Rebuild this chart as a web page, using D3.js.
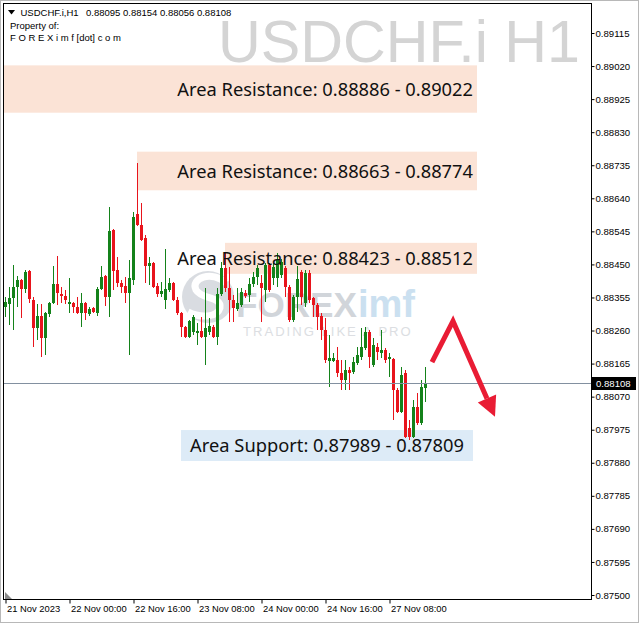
<!DOCTYPE html>
<html><head><meta charset="utf-8">
<script src="https://cdn.jsdelivr.net/npm/d3@7"></script>
<style>body{margin:0;background:#fff}svg{display:block}</style>
</head><body>
<svg id="c" width="639" height="623"></svg>
<script>
// ---- data ----
const opens = [0.88328,0.88337,0.88353,0.88385,0.88405,0.88379,0.88431,0.88348,0.88267,0.88302,
0.88239,0.88308,0.88339,0.88394,0.88366,0.88360,0.88337,0.88340,0.88328,0.88310,
0.88339,0.88308,0.88325,0.88310,0.88379,0.88417,0.88356,0.88549,0.88434,0.88396,
0.88388,0.88367,0.88405,0.88595,0.88563,0.88526,0.88446,0.88454,0.88388,0.88365,
0.88348,0.88376,0.88396,0.88348,0.88310,0.88270,0.88242,0.88256,0.88253,0.88258,
0.88242,0.88256,0.88270,0.88242,0.88365,0.88440,0.88382,0.88348,0.88322,0.88334,
0.88367,0.88362,0.88394,0.88414,0.88396,0.88376,0.88449,0.88411,0.88411,0.88420,
0.88440,0.88385,0.88290,0.88356,0.88428,0.88339,0.88425,0.88353,0.88334,0.88302,
0.88262,0.88172,0.88172,0.88175,0.88138,0.88118,0.88147,0.88141,0.88166,0.88184,
0.88210,0.88256,0.88161,0.88213,0.88195,0.88204,0.88178,0.88178,0.88089,0.88026,
0.88138,0.87980,0.87954,0.88040,0.87994,0.88095];
const highs = [0.88356,0.88385,0.88449,0.88417,0.88408,0.88434,0.88434,0.88356,0.88337,0.88337,
0.88312,0.88342,0.88446,0.88474,0.88385,0.88376,0.88411,0.88342,0.88356,0.88367,
0.88342,0.88328,0.88328,0.88385,0.88446,0.88420,0.88615,0.88552,0.88471,0.88405,
0.88414,0.88463,0.88600,0.88741,0.88626,0.88535,0.88471,0.88457,0.88396,0.88399,
0.88494,0.88411,0.88399,0.88356,0.88313,0.88273,0.88290,0.88305,0.88281,0.88299,
0.88382,0.88296,0.88276,0.88382,0.88457,0.88486,0.88443,0.88362,0.88382,0.88382,
0.88376,0.88411,0.88428,0.88449,0.88420,0.88454,0.88454,0.88454,0.88483,0.88466,
0.88446,0.88391,0.88362,0.88446,0.88434,0.88434,0.88434,0.88356,0.88339,0.88310,
0.88296,0.88247,0.88195,0.88213,0.88175,0.88175,0.88155,0.88184,0.88213,0.88267,
0.88270,0.88262,0.88239,0.88224,0.88262,0.88210,0.88195,0.88181,0.88095,0.88155,
0.88147,0.88003,0.88060,0.88081,0.88118,0.88154];
const lows = [0.88299,0.88276,0.88262,0.88328,0.88296,0.88367,0.88339,0.88213,0.88233,0.88184,
0.88190,0.88299,0.88335,0.88334,0.88339,0.88337,0.88310,0.88310,0.88307,0.88270,
0.88290,0.88302,0.88310,0.88302,0.88376,0.88331,0.88299,0.88376,0.88385,0.88367,
0.88339,0.88190,0.88391,0.88560,0.88517,0.88396,0.88391,0.88382,0.88356,0.88356,
0.88322,0.88370,0.88345,0.88305,0.88242,0.88239,0.88239,0.88247,0.88218,0.88239,
0.88161,0.88247,0.88239,0.88218,0.88359,0.88370,0.88284,0.88284,0.88316,0.88328,
0.88353,0.88342,0.88385,0.88391,0.88284,0.88342,0.88370,0.88391,0.88385,0.88411,
0.88356,0.88284,0.88284,0.88313,0.88334,0.88328,0.88339,0.88299,0.88262,0.88233,
0.88166,0.88098,0.88169,0.88127,0.88089,0.88089,0.88089,0.88135,0.88161,0.88175,
0.88204,0.88152,0.88155,0.88175,0.88181,0.88166,0.88127,0.88003,0.88023,0.88023,
0.87951,0.87945,0.87951,0.87988,0.87988,0.88056];
const closes = [0.88342,0.88353,0.88385,0.88405,0.88379,0.88428,0.88350,0.88267,0.88302,0.88239,
0.88310,0.88339,0.88394,0.88367,0.88359,0.88348,0.88342,0.88328,0.88310,0.88339,
0.88310,0.88322,0.88313,0.88379,0.88414,0.88356,0.88546,0.88431,0.88396,0.88385,
0.88367,0.88411,0.88586,0.88563,0.88520,0.88446,0.88454,0.88385,0.88365,0.88373,
0.88379,0.88396,0.88348,0.88310,0.88270,0.88242,0.88287,0.88299,0.88258,0.88242,
0.88267,0.88273,0.88242,0.88365,0.88440,0.88382,0.88348,0.88325,0.88339,0.88370,
0.88359,0.88394,0.88414,0.88440,0.88382,0.88449,0.88376,0.88443,0.88463,0.88457,
0.88385,0.88290,0.88356,0.88408,0.88356,0.88425,0.88348,0.88334,0.88299,0.88262,
0.88175,0.88181,0.88181,0.88138,0.88118,0.88147,0.88138,0.88169,0.88190,0.88213,
0.88256,0.88184,0.88218,0.88198,0.88204,0.88175,0.88184,0.88089,0.88026,0.88132,
0.87954,0.87954,0.88040,0.87994,0.88098,0.88108];

const timeLabels = ["21 Nov 2023","22 Nov 00:00","22 Nov 16:00","23 Nov 08:00","24 Nov 00:00","24 Nov 16:00","27 Nov 08:00"];
const timeIndex  = [0,16,32,48,64,80,96];
const priceTicks = [0.89115,0.89020,0.88925,0.88830,0.88735,0.88640,0.88545,0.88450,0.88355,
                    0.88260,0.88165,0.88070,0.87975,0.87880,0.87785,0.87690,0.87595,0.87500];
const lastPrice = 0.88108;
const symbol = "USDCHF.i,H1";
const ohlcText = "0.88095 0.88154 0.88056 0.88108";
const watermark = "USDCHF.i H1";

const zoneLabels = ["Area Resistance: 0.88886 - 0.89022","Area Resistance: 0.88663 - 0.88774",
                    "Area Resistance: 0.88423 - 0.88512","Area Support: 0.87989 - 0.87809"];
const zoneLow   = [0.88886,0.88663,0.88423,0.87885];
const zoneHigh  = [0.89022,0.88774,0.88512,0.87974];
const zoneFrom  = [-0.25,33,55,44];
const zoneTo    = [118,118,118,117];
const zoneKind  = ["res","res","res","sup"];

const arrowIdx   = [106.75,112,122.5];
const arrowPrice = [0.88169,0.88287,0.88012];

// ---- drawing ----
const W=639,H=623;
const L=3.5,R=591.5,T=3.5,B=599.5;
const svg=d3.select("#c");
const x=d3.scaleLinear().domain([0,146.75]).range([5,592]);
const y=d3.scaleLinear().domain([0.87500,0.89115]).range([595,33]);
const FONT="'Liberation Sans', Arial, sans-serif";
const BIG="'Noto Sans', 'Open Sans', sans-serif";
const GREEN="#14821a", RED="#e8141c";

svg.append("rect").attr("width",W).attr("height",H).attr("fill","#fff");

function fit(t,w){const n=t.node();const cur=n.getComputedTextLength();const fs=parseFloat(t.attr("font-size"));t.attr("font-size",(fs*w/cur).toFixed(2));return t;}

// watermark symbol
fit(svg.append("text").attr("x",580).attr("y",62).attr("text-anchor","end")
  .attr("font-family",FONT).attr("font-size",56).attr("fill","#d4d4d4").text(watermark),362);

// logo watermark
const logo=svg.append("g").attr("opacity",0.85);
logo.append("circle").attr("cx",208).attr("cy",297).attr("r",26).attr("fill","#d3d7dc");
logo.append("path").attr("d","M226,283 C212,270 190,278 196,290 C202,300 222,296 220,308 C217,318 200,318 188,312")
  .attr("fill","none").attr("stroke","#fff").attr("stroke-width",7);
fit(logo.append("text").attr("x",236).attr("y",317).attr("font-family",FONT).attr("font-weight","bold")
  .attr("font-size",36).attr("fill","#c9ced4").text("FOREX"),121);
fit(logo.append("text").attr("x",358).attr("y",317).attr("font-family",FONT).attr("font-weight","bold")
  .attr("font-size",36).attr("fill","#c2dbee").text("imf"),57);
fit(logo.append("text").attr("x",243).attr("y",336).attr("font-family",FONT).attr("letter-spacing",2)
  .attr("font-size",13).attr("fill","#d6d9dd").text("TRADING LIKE A PRO"),170);

// zones
const zones=d3.range(zoneLabels.length).map(k=>({k,label:zoneLabels[k],lo:zoneLow[k],hi:zoneHigh[k],from:zoneFrom[k],to:zoneTo[k],kind:zoneKind[k]}));
svg.append("g").selectAll("rect").data(zones).join("rect")
  .attr("x",d=>x(d.from)).attr("y",d=>y(d.hi))
  .attr("width",d=>x(d.to)-x(d.from)).attr("height",d=>y(d.lo)-y(d.hi))
  .attr("fill",d=>d.kind==="res"?"#fbe3d6":"#ddebf7");

// candles
const data=d3.range(opens.length).map(i=>({i,o:opens[i],h:highs[i],l:lows[i],c:closes[i]}));
const cg=svg.append("g").attr("shape-rendering","crispEdges");
cg.selectAll(".w").data(data).join("rect").attr("class","w")
  .attr("x",d=>Math.round(x(d.i))).attr("width",1)
  .attr("y",d=>y(d.h)).attr("height",d=>Math.max(1,y(d.l)-y(d.h)))
  .attr("fill",d=>d.c>=d.o?GREEN:RED);
cg.selectAll(".b").data(data).join("rect").attr("class","b")
  .attr("x",d=>Math.round(x(d.i))-1).attr("width",3)
  .attr("y",d=>y(Math.max(d.o,d.c))).attr("height",d=>Math.max(1,Math.abs(y(d.o)-y(d.c))))
  .attr("fill",d=>d.c>=d.o?GREEN:RED);

// zone labels
zones.forEach(d=>{
  const cy=(y(d.hi)+y(d.lo))/2;
  const t=svg.append("text").attr("font-family",BIG).attr("font-size",20).attr("fill","#111").text(d.label);
  if(d.kind==="res"){
    t.attr("text-anchor","end").attr("x",x(d.to)-4);
    fit(t,296);
  } else {
    t.attr("text-anchor","middle").attr("x",(x(d.from)+x(d.to))/2);
    fit(t,274);
  }
  const fs=parseFloat(t.attr("font-size"));
  t.attr("y",cy+fs*0.36);
});

// current price line
svg.append("line").attr("x1",L).attr("x2",R).attr("y1",Math.round(y(lastPrice))+0.5).attr("y2",Math.round(y(lastPrice))+0.5)
  .attr("stroke","#8290a0").attr("stroke-width",1);

// arrow
const ap=arrowIdx.map((v,k)=>[x(v),y(arrowPrice[k])]);
const tip=ap[2], p2=ap[1];
const dx=tip[0]-p2[0], dy=tip[1]-p2[1], len=Math.hypot(dx,dy), ux=dx/len, uy=dy/len;
const base=[tip[0]-20*ux,tip[1]-20*uy];
svg.append("path").attr("d",d3.line()([ap[0],ap[1],base])).attr("fill","none")
  .attr("stroke","#e91c34").attr("stroke-width",5).attr("stroke-linejoin","miter");
svg.append("path").attr("d",d3.line()([[base[0]+10*(-uy),base[1]+10*ux],tip,[base[0]-10*(-uy),base[1]-10*ux]])+"Z")
  .attr("fill","#e91c34");

// frame
svg.append("rect").attr("x",L).attr("y",T).attr("width",R-L).attr("height",B-T)
  .attr("fill","none").attr("stroke","#000").attr("stroke-width",1);
svg.append("rect").attr("x",0.5).attr("y",0.5).attr("width",W-1).attr("height",H-1)
  .attr("fill","none").attr("stroke","#b8b8b8");
svg.append("path").attr("d","M5,592 L5,599 L12,599 Z").attr("fill","#8a8a8a");

// right axis
const ya=svg.append("g").attr("transform",`translate(${R},0)`)
  .call(d3.axisRight(y).tickValues(priceTicks).tickFormat(d3.format(".5f")).tickSize(3).tickPadding(1));
ya.select(".domain").remove();
ya.selectAll("text").attr("font-family",FONT).attr("font-size",9.6).attr("fill","#000");
ya.selectAll("line").attr("stroke","#000");

// last price tag
const ly=Math.round(y(lastPrice))+0.5;
svg.append("rect").attr("x",592).attr("y",ly-6.5).attr("width",44).attr("height",13).attr("fill","#000");
svg.append("text").attr("x",596).attr("y",ly+3.5).attr("font-family",FONT).attr("font-size",9.6)
  .attr("fill","#fff").text(d3.format(".5f")(lastPrice));

// bottom axis
const xa=svg.append("g").attr("transform",`translate(0.5,${B})`)
  .call(d3.axisBottom(x).tickValues(timeIndex).tickFormat((d,k)=>timeLabels[k]).tickSize(4));
xa.select(".domain").remove();
xa.selectAll("line").attr("stroke","#000");
xa.selectAll("text").attr("text-anchor","start").attr("x",1).attr("y",6).attr("dy","0.71em")
  .attr("font-family",FONT).attr("font-size",9.4).attr("fill","#000");

// header
svg.append("path").attr("d","M8,10 L15,10 L11.5,14.5 Z").attr("fill","#000");
svg.append("text").attr("x",20.5).attr("y",16).attr("font-family",FONT).attr("font-size",9.5).text(symbol);
svg.append("text").attr("x",86).attr("y",16).attr("font-family",FONT).attr("font-size",9.5).text(ohlcText);
svg.append("text").attr("x",10).attr("y",29).attr("font-family",FONT).attr("font-size",9.5).text("Property of:");
svg.append("text").attr("x",10).attr("y",41).attr("font-family",FONT).attr("font-size",9.5).text("F O R E X i m f [dot] c o m");
</script>
</body></html>
